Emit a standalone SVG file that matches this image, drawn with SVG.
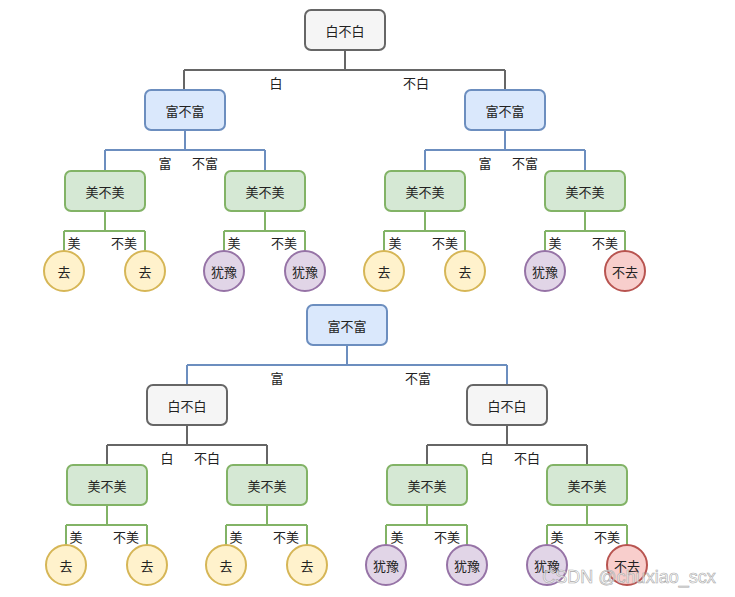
<svg xmlns="http://www.w3.org/2000/svg" width="735" height="597" viewBox="0 0 735 597">
<style>
text{font-family:"Noto Sans CJK SC","Liberation Sans",sans-serif;font-size:13px;fill:#222;text-anchor:middle;dominant-baseline:central}
.b{stroke-width:2}
.g{fill:#f5f5f5;stroke:#666}
.bl{fill:#dae8fc;stroke:#6c8ebf}
.gr{fill:#d5e8d4;stroke:#82b366}
.y{fill:#fff2cc;stroke:#d6b656}
.p{fill:#e1d5e7;stroke:#9673a6}
.r{fill:#f8cecc;stroke:#b85450}
.c{fill:none;stroke-width:2}
.cg{stroke:#666}.cb{stroke:#6c8ebf}.cgr{stroke:#82b366}
</style>
<rect width="735" height="597" fill="#fff"/>
<g id="connectors">
<path class="c cg" d="M345 50V70M184 70H505M184 70V90M505 70V90"/>
<path class="c cb" d="M185 130V150M105 150H265M105 150V171M265 150V171M505 130V150M425 150H585M425 150V171M585 150V171"/>
<path class="c cgr" d="M105 211V231M64 231H145M64 231V251M145 231V251M265 211V231M224 231H305M224 231V251M305 231V251M425 211V231M384 231H465M384 231V251M465 231V251M585 211V231M545 231H625M545 231V251M625 231V251"/>
<path class="c cb" d="M347 345V365M187 365H507M187 365V385M507 365V385"/>
<path class="c cg" d="M187 425V445M107 445H267M107 445V465M267 445V465M507 425V445M427 445H587M427 445V465M587 445V465"/>
<path class="c cgr" d="M107 505V525M66 525H147M66 525V545M147 525V545M267 505V525M226 525H307M226 525V545M307 525V545M427 505V525M386 525H467M386 525V545M467 525V545M587 505V525M547 525H627M547 525V545M627 525V545"/>
</g>
<g id="labels">
<text x="276" y="82">白</text><text x="416" y="82">不白</text>
<text x="165" y="162">富</text><text x="205" y="162">不富</text>
<text x="485" y="162">富</text><text x="525" y="162">不富</text>
<text x="74" y="242">美</text><text x="124" y="242">不美</text>
<text x="234" y="242">美</text><text x="284" y="242">不美</text>
<text x="395" y="242">美</text><text x="445" y="242">不美</text>
<text x="555" y="242">美</text><text x="605" y="242">不美</text>
<text x="277" y="377">富</text><text x="418" y="377">不富</text>
<text x="167" y="457">白</text><text x="207" y="457">不白</text>
<text x="487" y="457">白</text><text x="527" y="457">不白</text>
<text x="76" y="536">美</text><text x="126" y="536">不美</text>
<text x="236" y="536">美</text><text x="286" y="536">不美</text>
<text x="397" y="536">美</text><text x="447" y="536">不美</text>
<text x="557" y="536">美</text><text x="607" y="536">不美</text>
</g>
<g id="n1"><rect class="b g" x="305" y="10" width="80" height="40" rx="6"/><text x="345" y="30">白不白</text></g>
<g id="n2"><rect class="b bl" x="145" y="90" width="80" height="40" rx="6"/><text x="185" y="110">富不富</text></g>
<g id="n3"><rect class="b bl" x="465" y="90" width="80" height="40" rx="6"/><text x="505" y="110">富不富</text></g>
<g id="n4"><rect class="b gr" x="65" y="171" width="80" height="40" rx="6"/><text x="105" y="191">美不美</text></g>
<g id="n5"><rect class="b gr" x="225" y="171" width="80" height="40" rx="6"/><text x="265" y="191">美不美</text></g>
<g id="n6"><rect class="b gr" x="385" y="171" width="80" height="40" rx="6"/><text x="425" y="191">美不美</text></g>
<g id="n7"><rect class="b gr" x="545" y="171" width="80" height="40" rx="6"/><text x="585" y="191">美不美</text></g>
<g id="l1"><circle class="b y" cx="64" cy="271" r="20"/><text x="64" y="271">去</text></g>
<g id="l2"><circle class="b y" cx="145" cy="271" r="20"/><text x="145" y="271">去</text></g>
<g id="l3"><circle class="b p" cx="224" cy="271" r="20"/><text x="224" y="271">犹豫</text></g>
<g id="l4"><circle class="b p" cx="305" cy="271" r="20"/><text x="305" y="271">犹豫</text></g>
<g id="l5"><circle class="b y" cx="384" cy="271" r="20"/><text x="384" y="271">去</text></g>
<g id="l6"><circle class="b y" cx="465" cy="271" r="20"/><text x="465" y="271">去</text></g>
<g id="l7"><circle class="b p" cx="545" cy="271" r="20"/><text x="545" y="271">犹豫</text></g>
<g id="l8"><circle class="b r" cx="625" cy="271" r="20"/><text x="625" y="271">不去</text></g>
<g id="m1"><rect class="b bl" x="307" y="305" width="80" height="40" rx="6"/><text x="347" y="325">富不富</text></g>
<g id="m2"><rect class="b g" x="147" y="385" width="80" height="40" rx="6"/><text x="187" y="405">白不白</text></g>
<g id="m3"><rect class="b g" x="467" y="385" width="80" height="40" rx="6"/><text x="507" y="405">白不白</text></g>
<g id="m4"><rect class="b gr" x="67" y="465" width="80" height="40" rx="6"/><text x="107" y="485">美不美</text></g>
<g id="m5"><rect class="b gr" x="227" y="465" width="80" height="40" rx="6"/><text x="267" y="485">美不美</text></g>
<g id="m6"><rect class="b gr" x="387" y="465" width="80" height="40" rx="6"/><text x="427" y="485">美不美</text></g>
<g id="m7"><rect class="b gr" x="547" y="465" width="80" height="40" rx="6"/><text x="587" y="485">美不美</text></g>
<g id="k1"><circle class="b y" cx="66" cy="565" r="20"/><text x="66" y="565">去</text></g>
<g id="k2"><circle class="b y" cx="147" cy="565" r="20"/><text x="147" y="565">去</text></g>
<g id="k3"><circle class="b y" cx="226" cy="565" r="20"/><text x="226" y="565">去</text></g>
<g id="k4"><circle class="b y" cx="307" cy="565" r="20"/><text x="307" y="565">去</text></g>
<g id="k5"><circle class="b p" cx="386" cy="565" r="20"/><text x="386" y="565">犹豫</text></g>
<g id="k6"><circle class="b p" cx="467" cy="565" r="20"/><text x="467" y="565">犹豫</text></g>
<g id="k7"><circle class="b p" cx="547" cy="565" r="20"/><text x="547" y="565">犹豫</text></g>
<g id="k8"><circle class="b r" cx="627" cy="565" r="20"/><text x="627" y="565">不去</text></g>
<text x="629" y="577" style="font-family:'Liberation Sans',sans-serif;font-size:18px;fill:#fff;fill-opacity:0.6;stroke:#aaa;stroke-width:0.6">CSDN @chuxiao_scx</text>
</svg>
